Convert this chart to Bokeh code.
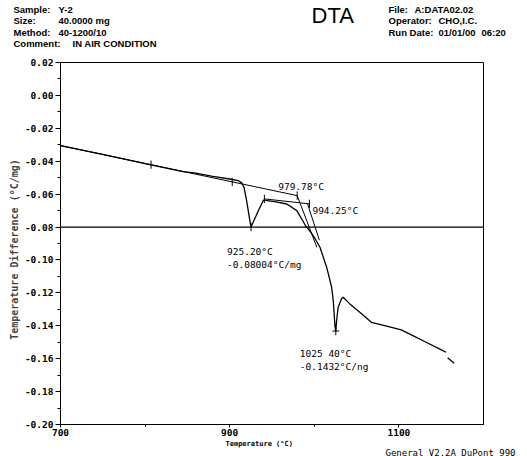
from bokeh.plotting import figure
from bokeh.models import Label, FixedTicker, NumeralTickFormatter, Range1d
from bokeh.layouts import column, row
from bokeh.core.properties import value
from bokeh.embed import file_html
from bokeh.resources import INLINE

# ---------------- data ----------------
curve_T = [700, 750, 800, 845, 860, 880, 900, 910, 914, 917, 920, 923, 925.2,
           930, 934, 940, 953, 967.5, 979.3, 987, 990, 993, 997, 1002, 1006.7,
           1014.6, 1020.5, 1022.4, 1024.4, 1025.4, 1026.4, 1028.2, 1032.2, 1034,
           1042, 1053.8, 1067.5, 1083.2, 1102.8, 1116.5, 1132.2, 1147.9, 1155.8]
curve_v = [-0.0305, -0.0359, -0.0414, -0.0463, -0.0472, -0.0492, -0.0508, -0.0518,
           -0.0530, -0.0560, -0.0640, -0.0735, -0.0800,
           -0.0745, -0.0700, -0.0636, -0.0645, -0.0660, -0.0700, -0.0768, -0.0795,
           -0.0812, -0.0840, -0.0880, -0.0923,
           -0.1044, -0.1166, -0.1247, -0.1400, -0.1432, -0.1368, -0.1288, -0.1236, -0.1227,
           -0.1267, -0.1318, -0.1379, -0.1399, -0.1425, -0.1460, -0.1500, -0.1540, -0.1561]
tail_T = [1157.6, 1165.5]
tail_v = [-0.1595, -0.1628]

tangentA_T = [700, 979.78]
tangentA_v = [-0.0305, -0.0609]
tangentB_T = [941, 994.25]
tangentB_v = [-0.0629, -0.0659]
tangentC_T = [979.78, 1003]
tangentC_v = [-0.0609, -0.0923]
tangentD_T = [992, 1006]
tangentD_v = [-0.0659, -0.0880]

ref_level = -0.08
x_span = [700, 1200]

tick_T = [807, 903, 979.78, 941, 994.25, 925.2, 1025.4]
tick_v = [-0.0421, -0.0526, -0.0609, -0.0629, -0.0659, -0.0800, -0.1432]

peak_T = [979.78, 994.25, 925.20, 1025.40]
peak_v = [-0.0609, -0.0659, -0.08004, -0.1432]
peak_text = [["979.78°C"], ["994.25°C"], ["925.20°C", "-0.08004°C/mg"],
             ["1025 40°C", "-0.1432°C/ng"]]

y_ticks = [0.02, 0.00, -0.02, -0.04, -0.06, -0.08, -0.10, -0.12, -0.14, -0.16, -0.18, -0.20]
y_minor = [0.01, -0.01, -0.03, -0.05, -0.07, -0.09, -0.11, -0.13, -0.15, -0.17, -0.19]
x_ticks = [700, 900, 1100]
x_minor = [800, 1000]

header_left_keys = ["Sample:", "Size:", "Method:", "Comment:"]
header_left_vals = ["Y-2", "40.0000 mg", "40-1200/10", "IN AIR CONDITION"]
header_right_keys = ["File:", "Operator:", "Run Date:"]
header_right_vals = ["A:DATA02.02", "CHO,I.C.", "01/01/00"]
run_time = "06:20"
title_text = "DTA"
x_label = "Temperature (°C)"
y_label = "Temperature  Difference  (°C/mg)"
footer = "General V2.2A DuPont 990"

# ---------------- layout geometry ----------------
W = 527
HEAD_H = 55
FL, FR = 60, 483
FRAME_TOP, FRAME_BOT = 62, 424
MAIN_BOTTOM = 438
FOOT_H = 456 - MAIN_BOTTOM

mono = "DejaVu Sans Mono"
sans = "Liberation Sans"


def text_panel(height):
    f = figure(width=W, height=height, output_backend="svg", toolbar_location=None,
               x_range=Range1d(0, W), y_range=Range1d(height, 0),
               x_axis_type=None, y_axis_type=None, min_border=0,
               min_border_left=0, min_border_right=0,
               min_border_top=0, min_border_bottom=0)
    f.xgrid.visible = False
    f.ygrid.visible = False
    f.outline_line_color = None
    f.background_fill_color = "white"
    f.border_fill_color = "white"
    return f


# ---------------- header ----------------
head = text_panel(HEAD_H)
rows_y = [8.5, 20, 31.5, 43]
hstyle = dict(text_font=value(sans), text_font_style="bold", text_font_size="9.5px",
              text_color="black", text_baseline="middle", text_align="left")
head.text(x=[13] * 4, y=rows_y, text=header_left_keys, **hstyle)
head.text(x=[58, 58, 58, 72], y=rows_y, text=header_left_vals, **hstyle)
head.text(x=[388] * 3, y=rows_y[:3], text=header_right_keys, **hstyle)
head.text(x=[414, 438, 438], y=rows_y[:3], text=header_right_vals, **hstyle)
head.text(x=[481], y=[rows_y[2]], text=[run_time], **hstyle)
head.text(x=[311], y=[15], text=[title_text], text_font=value(sans),
          text_font_size="22px", text_color="black",
          text_baseline="middle", text_align="left")

# ---------------- main plot ----------------
p = figure(width=W, height=MAIN_BOTTOM - HEAD_H, output_backend="svg",
           toolbar_location=None,
           x_range=Range1d(700, 1200), y_range=Range1d(-0.20, 0.02),
           min_border_left=FL, min_border_right=W - FR,
           min_border_top=FRAME_TOP - HEAD_H, min_border_bottom=MAIN_BOTTOM - FRAME_BOT)
p.xgrid.visible = False
p.ygrid.visible = False
p.outline_line_color = "black"
p.outline_line_width = 1
p.background_fill_color = "white"
p.border_fill_color = "white"

for ax in (p.xaxis[0], p.yaxis[0]):
    ax.axis_line_color = "black"
    ax.major_tick_line_color = "black"
    ax.minor_tick_line_color = "black"
    ax.major_label_text_font = mono
    ax.major_label_text_font_style = "bold"
    ax.major_label_text_font_size = "9.5px"
    ax.major_label_text_color = "black"
    ax.major_tick_in = 0
    ax.minor_tick_in = 0

p.yaxis[0].ticker = FixedTicker(ticks=y_ticks, minor_ticks=y_minor)
p.yaxis[0].formatter = NumeralTickFormatter(format="0.00")
p.yaxis[0].major_tick_out = 5
p.yaxis[0].minor_tick_out = 3
p.yaxis[0].major_label_standoff = 2
p.yaxis[0].axis_label = y_label
p.yaxis[0].axis_label_text_font = mono
p.yaxis[0].axis_label_text_font_style = "bold"
p.yaxis[0].axis_label_text_font_size = "10px"
p.yaxis[0].axis_label_standoff = 2

p.xaxis[0].ticker = FixedTicker(ticks=x_ticks, minor_ticks=x_minor)
p.xaxis[0].major_tick_out = 3
p.xaxis[0].minor_tick_out = 2
p.xaxis[0].major_label_standoff = 1

# reference level line
p.line(x_span, [ref_level, ref_level], line_color="black", line_width=1.2)

# tangent construction lines
for tx, tv in ((tangentA_T, tangentA_v), (tangentB_T, tangentB_v),
               (tangentC_T, tangentC_v), (tangentD_T, tangentD_v)):
    p.line(tx, tv, line_color="black", line_width=1)

# curve
p.line(curve_T, curve_v, line_color="black", line_width=1.3)
p.line(tail_T, tail_v, line_color="black", line_width=1.3)

# tick marks at construction points
p.segment(x0=tick_T, y0=[v - 0.0025 for v in tick_v], x1=tick_T,
          y1=[v + 0.0025 for v in tick_v], line_color="black", line_width=1)
p.segment(x0=[peak_T[3] - 4], y0=[peak_v[3]], x1=[peak_T[3] + 4], y1=[peak_v[3]],
          line_color="black", line_width=1)

# peak annotations
ann_offsets = [(-19, 9), (3, -7), (-24, -24), (-36, -22)]
for (t, v, lines, (dx, dy)) in zip(peak_T, peak_v, peak_text, ann_offsets):
    for i, s in enumerate(lines):
        p.add_layout(Label(x=t, y=v, text=s, x_offset=dx, y_offset=dy - 13 * i,
                           text_font=mono, text_font_size="9.5px", text_color="black",
                           text_align="left", text_baseline="middle"))

# ---------------- footer ----------------
foot = text_panel(FOOT_H)
foot.text(x=[225], y=[443 - MAIN_BOTTOM], text=[x_label], text_font=value(mono),
          text_font_style="bold", text_font_size="7px", text_color="black",
          text_baseline="middle", text_align="left")
foot.text(x=[385], y=[452 - MAIN_BOTTOM], text=[footer], text_font=value(mono),
          text_font_size="9px", text_color="black",
          text_baseline="middle", text_align="left")

layout = column(row(head), p, row(foot), spacing=0)
open("out.html", "w").write(file_html(layout, INLINE))
